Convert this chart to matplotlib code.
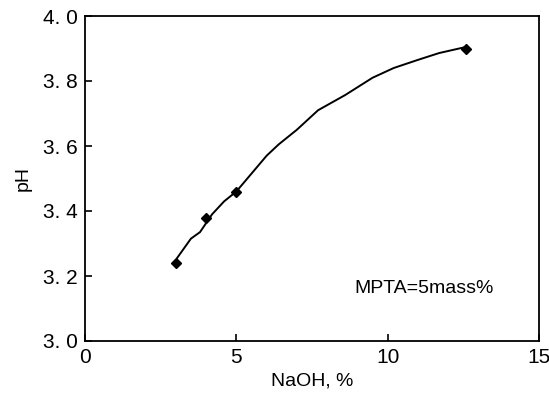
import matplotlib
matplotlib.use('Agg')
import matplotlib.pyplot as plt

plt.rcParams['font.family'] = ['Liberation Sans', 'DejaVu Sans']

# measured points
naoh = [3.0, 4.0, 5.0, 12.6]
ph = [3.24, 3.38, 3.46, 3.90]

# trend curve
curve_x = [3.04, 3.5, 3.8, 4.2, 4.6, 5.0, 5.5, 6.0, 6.4, 7.0, 7.7, 8.6, 9.5, 10.2, 11.0, 11.7, 12.6]
curve_y = [3.255, 3.315, 3.335, 3.39, 3.43, 3.46, 3.515, 3.57, 3.605, 3.65, 3.71, 3.757, 3.81,
           3.84, 3.865, 3.886, 3.905]

xticks = [0, 5, 10, 15]
yticks = [3.0, 3.2, 3.4, 3.6, 3.8, 4.0]

fig = plt.figure(figsize=(5.49, 3.95), dpi=100)
ax = fig.add_axes([85 / 549, 1 - 341 / 395, (539 - 85) / 549, (341 - 16) / 395])

ax.plot(curve_x, curve_y, color='black', lw=1.4)
ax.plot(naoh, ph, linestyle='none', marker='D', color='black', markersize=5.5)

ax.set_xlim(0, 15)
ax.set_ylim(3.0, 4.0)
ax.set_xticks(xticks)
ax.set_yticks(yticks)
ax.set_yticklabels([f'{v:.1f}'.replace('.', '. ') for v in yticks])
ax.tick_params(direction='in', length=5, width=1.2, labelsize=15, pad=5)
for s in ax.spines.values():
    s.set_linewidth(1.3)

ax.set_xlabel('NaOH, %', fontsize=14, labelpad=4)
ax.set_ylabel('pH', fontsize=14, labelpad=8)
ax.text(8.9, 3.163, 'MPTA=5mass%', fontsize=14, va='center', ha='left')

fig.savefig('out.png', dpi=100)
